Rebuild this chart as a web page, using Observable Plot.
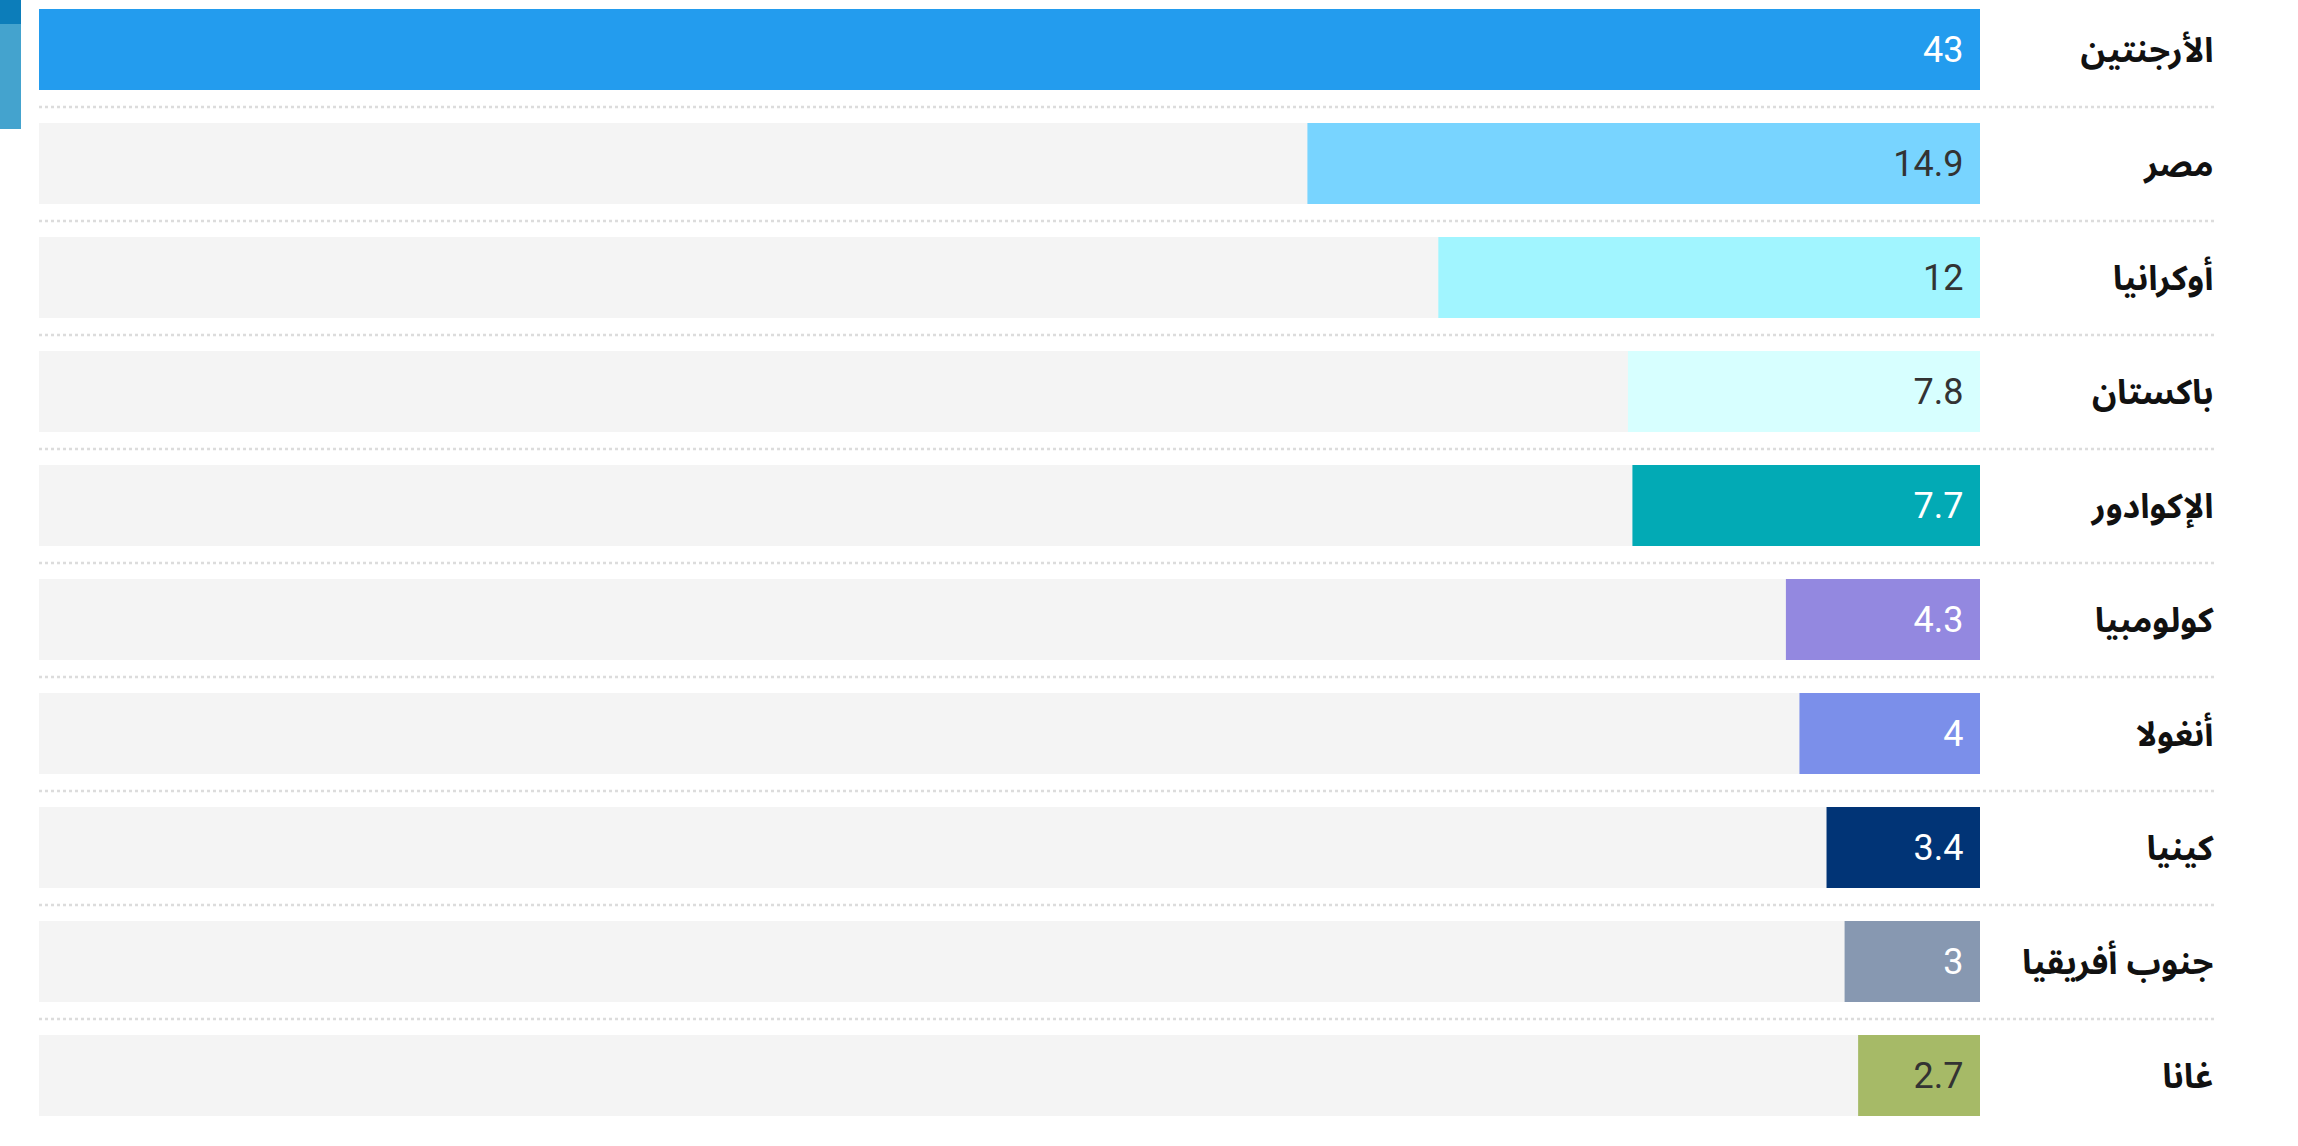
<!DOCTYPE html>
<html>
<head>
<meta charset="utf-8">
<script src="https://cdn.jsdelivr.net/npm/d3@7"></script>
<script src="https://cdn.jsdelivr.net/npm/@observablehq/plot@0.6"></script>
<style>
  html, body { margin: 0; padding: 0; background: #ffffff; }
  #wrap { position: relative; width: 2298px; height: 1146px; overflow: hidden; }
  #accent1 { position: absolute; left: 0; top: 0; width: 21px; height: 24px; background: #0c7dba; }
  #accent2 { position: absolute; left: 0; top: 24px; width: 21px; height: 105px; background: #44a3ce; }
  #chart { position: absolute; left: 0; top: 0; }
</style>
</head>
<body>
<div id="wrap">
  <div id="chart"></div>
  <div id="accent1"></div>
  <div id="accent2"></div>
</div>
<script>
const countries = ["الأرجنتين", "مصر", "أوكرانيا", "باكستان", "الإكوادور", "كولومبيا", "أنغولا", "كينيا", "جنوب أفريقيا", "غانا"];
const values = [43, 14.9, 12, 7.8, 7.7, 4.3, 4, 3.4, 3, 2.7];
const barColors = ["#239cee", "#78d4ff", "#a1f5ff", "#d7ffff", "#02aab5", "#9388e0", "#7b8fea", "#013476", "#8798b1", "#a6ba67"];
const valueColors = ["#ffffff", "#333333", "#333333", "#333333", "#ffffff", "#ffffff", "#ffffff", "#ffffff", "#ffffff", "#333333"];
const xMax = 43;

const rows = countries.map((c, i) => ({country: c, value: values[i], fill: barColors[i], textColor: valueColors[i], idx: i}));

const chart = Plot.plot({
  width: 2298,
  height: 1146,
  marginLeft: 39,
  marginRight: 84,
  marginTop: 0,
  marginBottom: 0,
  style: {background: "#ffffff", overflow: "visible"},
  x: {domain: [0, xMax], range: [1980, 39], axis: null},
  y: {domain: countries, range: [8, 1116], paddingInner: 0.2895, paddingOuter: 0, axis: null},
  marks: [
    Plot.ruleY(rows.filter(d => d.idx > 0), {y: "country", dy: -57, stroke: "#dcdcdc", strokeWidth: 2.5, strokeDasharray: "3,3"}),
    Plot.barX(rows, {y: "country", x1: 0, x2: xMax, fill: "#f4f4f4"}),
    Plot.barX(rows, {y: "country", x1: 0, x2: "value", fill: d => d.fill}),
    Plot.text(rows, {y: "country", x: 0, dx: -17, text: d => String(d.value), textAnchor: "end", fill: d => d.textColor, fontSize: 36, fontFamily: "Roboto", fontWeight: 400}),
    Plot.text(rows, {y: "country", frameAnchor: "right", dx: -1, dy: 1, text: "country", textAnchor: "end", fill: "#111111", fontSize: 34, fontWeight: "bold", fontFamily: "'Noto Sans Arabic', 'DejaVu Sans', sans-serif"})
  ]
});
document.getElementById("chart").appendChild(chart);
</script>
</body>
</html>
